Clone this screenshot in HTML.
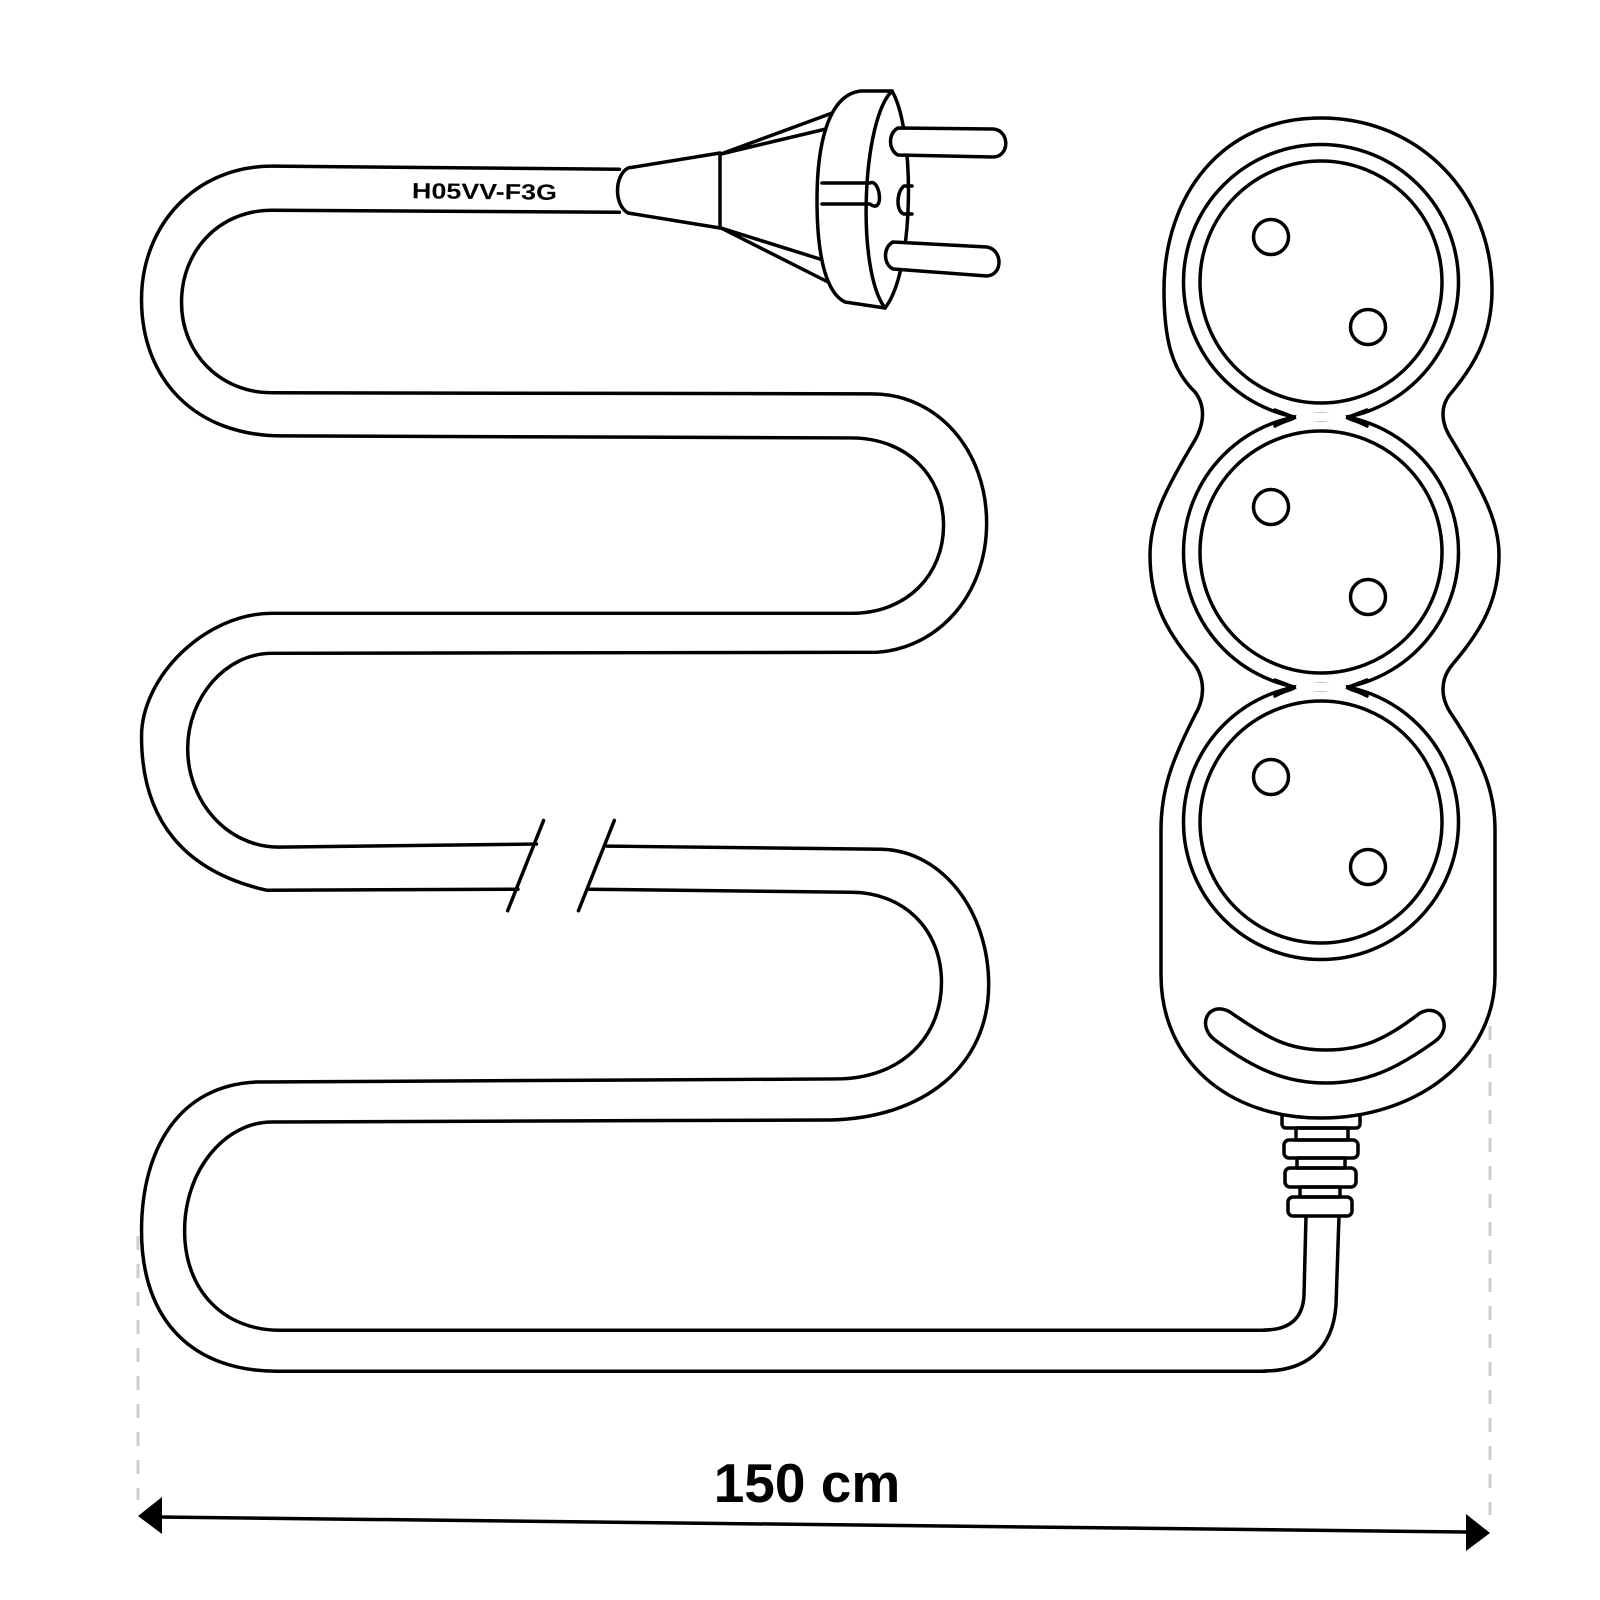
<!DOCTYPE html>
<html><head><meta charset="utf-8"><style>html,body{margin:0;padding:0;background:#fff}svg{display:block}</style></head>
<body>
<svg width="1600" height="1600" viewBox="0 0 1600 1600" xmlns="http://www.w3.org/2000/svg">
<g fill="none" stroke="#000" stroke-width="3.5" stroke-linejoin="round" stroke-linecap="round">
<g transform="scale(1.0256)" stroke-width="3.4">
<path d="M604,165 L265,162 C190,162 138,220 138,292 C138,370 190,425 275,425 L830,427 C885,427 920,465 920,512 C920,560 885,598 830,598 L265,598 C200,598 138,660 138,718 C138,800 180,850 260,868 L505,867"/>
<path d="M574,867 L830,870 C880,870 918,905 918,958 C918,1010 880,1052 815,1052 L250,1055 C175,1058 138,1120 138,1200 C138,1290 190,1337 270,1337 L1234,1337"/>
<path d="M604,207 L265,205 C215,205 177,243 177,295 C177,345 215,383 265,383 L850,384 C915,384 962,440 962,510 C962,580 915,632 855,636 L265,637 C220,637 183,680 183,730 C183,782 222,826 272,826 L523,823"/>
<path d="M592,825 L860,828 C920,830 964,890 964,960 C964,1040 900,1090 810,1092 L265,1094 C220,1094 180,1140 180,1200 C180,1260 220,1297 272,1297 L1234,1297"/>
<path d="M495,888 L530,800 M564,888 L599,800"/>
</g>
<path d="M1306,1216 L1304,1295 C1303,1318 1290,1330 1264,1330"/>
<path d="M1339,1216 L1336,1305 C1333,1350 1305,1371 1264,1371"/>
<rect x="1282" y="1113" width="78" height="15" rx="4"/>
<rect x="1296" y="1128" width="52" height="12"/>
<rect x="1284" y="1140" width="74" height="18" rx="5"/>
<rect x="1297" y="1158" width="48" height="10"/>
<rect x="1285" y="1168" width="71" height="19" rx="5"/>
<rect x="1300" y="1187" width="40" height="10"/>
<rect x="1288" y="1197" width="64" height="19" rx="5"/>
<path fill="#fff" d="M1321,118 C1420,118 1492,195 1492,290 C1492,340 1470,370 1452,392 C1440,405 1440,422 1452,440 C1482,490 1499,520 1499,555 C1499,600 1482,630 1452,665 C1440,680 1440,698 1452,715 C1482,760 1495,790 1495,830 L1495,975 C1495,1060 1415,1118 1321,1118 C1227,1118 1161,1060 1161,975 L1161,830 C1161,790 1172,760 1195,715 C1205,698 1205,680 1195,665 C1165,630 1150,600 1150,555 C1150,520 1165,490 1195,440 C1205,422 1205,405 1195,392 C1172,370 1164,340 1164,290 C1164,195 1222,118 1321,118Z"/>
<circle cx="1321" cy="282" r="137.5"/>
<circle cx="1321" cy="552" r="137.5"/>
<circle cx="1321" cy="822" r="137.5"/>
<circle cx="1321" cy="282" r="121" fill="#fff"/>
<circle cx="1321" cy="552" r="121" fill="#fff"/>
<circle cx="1321" cy="822" r="121" fill="#fff"/>
<path stroke="#fff" stroke-width="8" d="M1300,417 L1342,417 M1300,687 L1342,687"/>
<path d="M1275,410 C1285,414 1292,416 1294,418 C1290,420 1282,422 1275,426 M1367,410 C1357,414 1350,416 1348,418 C1352,420 1360,422 1367,426 M1275,680 C1285,684 1292,686 1294,688 C1290,690 1282,692 1275,696 M1367,680 C1357,684 1350,686 1348,688 C1352,690 1360,692 1367,696"/>
<circle cx="1271" cy="237" r="17.5"/><circle cx="1368" cy="327" r="17.5"/>
<circle cx="1271" cy="507" r="17.5"/><circle cx="1368" cy="597" r="17.5"/>
<circle cx="1271" cy="777" r="17.5"/><circle cx="1368" cy="867" r="17.5"/>
<path d="M1230,1012 C1270,1040 1290,1050 1326,1050 C1362,1050 1385,1040 1420,1013 C1440,1002 1455,1028 1434,1042 C1395,1070 1365,1083 1326,1083 C1287,1083 1255,1070 1215,1040 C1196,1026 1208,1000 1230,1012Z"/>
<path fill="#fff" d="M628,168 L720,153 L720,228 L628,213 C614,205 614,176 628,168Z"/>
<path d="M721,154 L835,112 M721,154 L830,128 M721,228 L823,260 M721,228 L828,282"/>
<path fill="#fff" d="M892,91 L862,91 C830,93 817,140 817,200 C817,262 828,294 845,302 L885,308 C915,270 915,130 892,91Z"/>
<path d="M892,91 C862,120 856,270 885,308"/>
<path fill="#fff" d="M898,128 L993,129 C1010,130 1010,157 993,157 L898,155 C888,150 888,133 898,128Z"/>
<path fill="#fff" d="M893,242 L987,247 C1003,250 1003,275 987,276 L893,269 C883,264 883,247 893,242Z"/>
<path d="M822,183 L870,183 C880,178 885,215 870,204 L822,204"/>
<path d="M912,186 L904,186 C896,192 896,212 904,214 L912,214"/>
</g>
<text x="412" y="199" font-family="Liberation Sans, sans-serif" font-weight="bold" font-size="22" textLength="145" lengthAdjust="spacingAndGlyphs" transform="rotate(0.6 480 190)">H05VV-F3G</text>
<g stroke="#ccc" stroke-width="3" stroke-dasharray="14,14">
<line x1="138" y1="1236" x2="138" y2="1500"/>
<line x1="1490" y1="1026" x2="1490" y2="1515"/>
</g>
<line x1="158" y1="1517" x2="1466" y2="1532" stroke="#000" stroke-width="3.5"/>
<path d="M138,1516 L162,1497 L162,1534Z"/>
<path d="M1490,1533 L1466,1514 L1466,1551Z"/>
<text x="807" y="1502" text-anchor="middle" font-family="Liberation Sans, sans-serif" font-weight="bold" font-size="55">150 cm</text>
</svg>
</body></html>
